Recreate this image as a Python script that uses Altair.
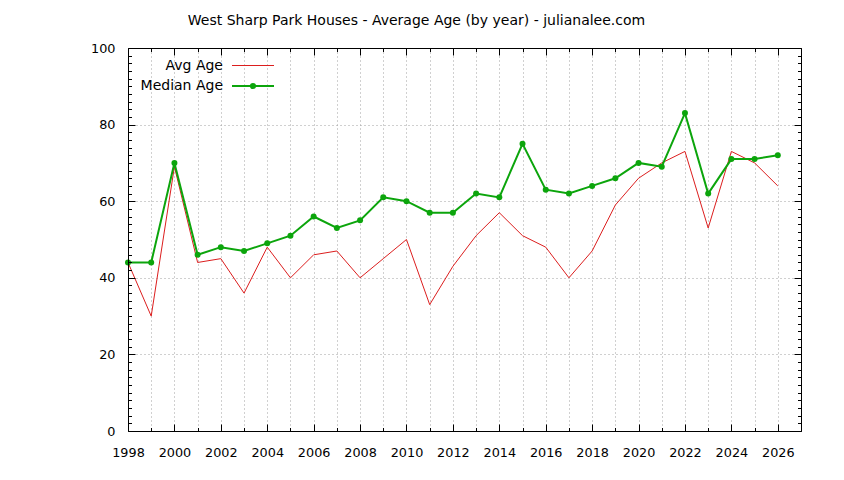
import altair as alt
import pandas as pd

# ---- data ----
years = list(range(1998, 2027))
avg_age = [44, 30, 69, 44, 45, 36, 48, 40, 46, 47,
           40, 45, 50, 33, 43, 51, 57, 51, 48, 40,
           47, 59, 66, 70, 73, 53, 73, 70, 64]
median_age = [44, 44, 70, 46, 48, 47, 49, 51, 56, 53,
              55, 61, 60, 57, 57, 62, 61, 75, 63, 62,
              64, 66, 70, 69, 83, 62, 71, 71, 72]
series_names = ["Avg Age", "Median Age"]
x_tick_values = list(range(1998, 2028))
y_label_values = list(range(0, 101, 20))
y_tick_values = list(range(0, 101, 2))
title_text = "West Sharp Park Houses - Average Age (by year) - julianalee.com"

RED = "#dc1e1e"
GREEN = "#0ca50c"
FONT = "DejaVu Sans"
W, H = 673, 383

avg_df = pd.DataFrame({"year": years, "value": avg_age, "series": series_names[0]})
med_df = pd.DataFrame({"year": years, "value": median_age, "series": series_names[1]})
all_df = pd.concat([avg_df, med_df], ignore_index=True)

xscale = alt.Scale(domain=[1998, 2027], nice=False, zero=False)
yscale = alt.Scale(domain=[0, 100], nice=False, zero=False)

grid_gray = "#a0a0a0"

# main axes: labels + dotted grid
x_main = alt.Axis(orient="bottom", values=x_tick_values, title=None,
                  labelExpr="datum.value % 2 == 0 && datum.value < 2027 ? format(datum.value, 'd') : ''",
                  labelFont=FONT, labelFontSize=12.8, labelColor="black", labelPadding=15,
                  labelFlush=False, labelOverlap=False, ticks=False, domain=False,
                  grid=True, gridColor=grid_gray, gridDash=[1, 3], gridWidth=1,
                  gridOpacity={"condition": {"test": "datum.value == 1998 || datum.value == 2027", "value": 0}, "value": 1})
y_main = alt.Axis(orient="left", values=y_label_values, title=None,
                  labelFont=FONT, labelFontSize=12.8, labelColor="black", labelPadding=13,
                  labelFlush=False, labelOverlap=False, ticks=False, domain=False,
                  grid=True, gridColor=grid_gray, gridDash=[1, 3], gridWidth=1,
                  gridOpacity={"condition": {"test": "datum.value == 0 || datum.value == 100", "value": 0}, "value": 1})

def tick_axis(orient, offset, values, major_test):
    return alt.Axis(orient=orient, offset=offset, values=values, title=None,
                    labels=False, grid=False, ticks=True, tickColor="black", tickWidth=1,
                    tickSize={"condition": {"test": major_test, "value": 7}, "value": 3.5},
                    domain=True, domainColor="black", domainWidth=1, zindex=1)

x_bottom_in = tick_axis("top", -H, x_tick_values, "datum.value % 2 == 0")
x_top_in = tick_axis("bottom", -H, x_tick_values, "datum.value % 2 == 0")
y_left_in = tick_axis("right", -W, y_tick_values, "datum.value % 20 == 0")
y_right_in = tick_axis("left", -W, y_tick_values, "datum.value % 20 == 0")

avg_layer = alt.Chart(avg_df).mark_line(color=RED, strokeWidth=1).encode(
    x=alt.X("year:Q", scale=xscale, axis=x_main),
    y=alt.Y("value:Q", scale=yscale, axis=y_main),
)

med_layer = alt.Chart(med_df).mark_line(
    color=GREEN, strokeWidth=2,
    point=alt.OverlayMarkDef(filled=True, size=36, color=GREEN),
).encode(
    x=alt.X("year:Q", scale=xscale, axis=x_bottom_in),
    y=alt.Y("value:Q", scale=yscale, axis=y_left_in),
)

# legend glyphs: a 42px line (symbol box 20px, path drawn past the unit box)
line_path = "M-2.1,0L2.1,0"
line_dot_path = "M-2.1,0L2.1,0M0.21,0A0.21,0.21,0,1,1,-0.21,0A0.21,0.21,0,1,1,0.21,0"

legend = alt.Legend(title=None, orient="none", legendX=114, legendY=7,
                    labelAlign="right", labelOffset={"expr": "-41"}, symbolSize=400,
                    symbolOpacity=1, labelFont=FONT, labelFontSize=14,
                    labelColor="black", rowPadding=2, padding=0)

legend_layer = alt.Chart(all_df).mark_point(opacity=0, filled=False).encode(
    x=alt.X("year:Q", scale=xscale, axis=x_top_in),
    y=alt.Y("value:Q", scale=yscale, axis=y_right_in),
    color=alt.Color("series:N", scale=alt.Scale(domain=series_names, range=[RED, GREEN]), legend=legend),
    shape=alt.Shape("series:N", scale=alt.Scale(domain=series_names, range=[line_path, line_dot_path]), legend=legend),
    strokeWidth=alt.StrokeWidth("series:N", scale=alt.Scale(domain=series_names, range=[1, 2]), legend=legend),
)

chart = alt.layer(avg_layer, med_layer, legend_layer).resolve_axis(
    x="independent", y="independent"
).properties(
    width=W, height=H,
    title=alt.TitleParams(title_text, font=FONT, fontSize=14, fontWeight="normal",
                          color="black", anchor="middle", dx=-48, offset=14),
    autosize=alt.AutoSizeParams(type="none"),
    padding={"left": 120, "top": 40, "right": 35, "bottom": 41},
).configure_view(stroke="black", strokeWidth=1).configure(background="white")

chart.save("out.html", embed_options={"renderer": "svg", "actions": False})
